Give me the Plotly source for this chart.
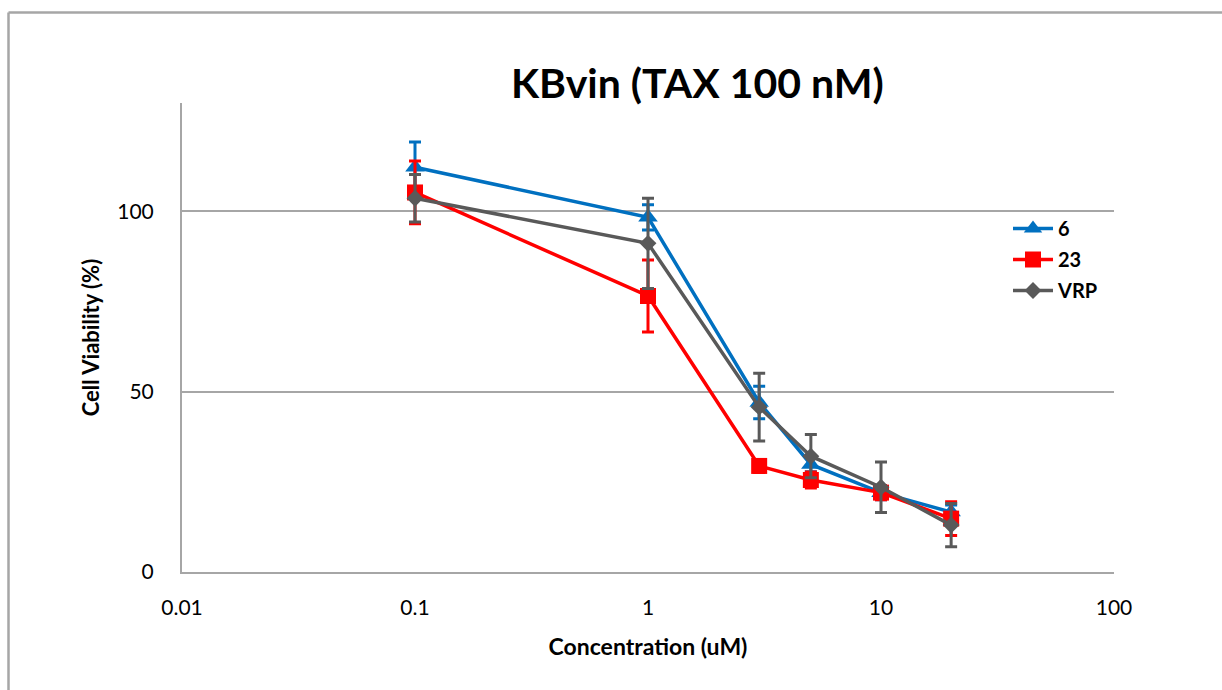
import plotly.graph_objects as go

conc = [0.1, 1, 3, 5, 10, 20]
s6 = [112.2, 98.3, 47.0, 29.8, 22.0, 16.6]
s6_err = [7.0, 3.5, 4.5, 2.0, 2.0, 2.0]
s23 = [105.2, 76.5, 29.4, 25.5, 22.0, 14.8]
s23_err = [8.7, 10.0, 1.8, 2.2, 2.0, 4.7]
vrp = [103.6, 91.1, 45.7, 32.1, 23.5, 13.0]
vrp_err = [6.6, 12.5, 9.4, 6.0, 7.0, 6.0]

names = ["6", "23", "VRP"]
colors = ["#0070C0", "#FF0000", "#595959"]
symbols = ["triangle-up", "square", "diamond"]
sizes = [17, 16, 13]
ys = [s6, s23, vrp]
errs = [s6_err, s23_err, vrp_err]

FONT = "Lato"
fig = go.Figure()
for n, c, sym, sz, y, e in zip(names, colors, symbols, sizes, ys, errs):
    fig.add_trace(go.Scatter(
        x=conc, y=y, name=n, mode="lines+markers", legendgroup=n,
        line=dict(color=c, width=3.5),
        marker=dict(symbol=sym, size=sz, color=c, line=dict(width=0)),
        error_y=dict(type="data", array=e, visible=True, color=c, thickness=3, width=6),
    ))

W, H = 1222, 690
L, R, T, B = 182, 108, 103, 118
pw, ph = W - L - R, H - T - B

def px(xp):
    return (xp - L) / pw

def py(yp):
    return (H - B - yp) / ph

fig.update_layout(
    width=W, height=H,
    margin=dict(l=L, r=R, t=T, b=B),
    paper_bgcolor="white", plot_bgcolor="white",
    font=dict(family=FONT, color="black"),
    showlegend=True,
    legend=dict(x=px(1008), y=py(209), xanchor="left", yanchor="top",
                font=dict(family=FONT, size=20, color="black", weight="bold"),
                bgcolor="rgba(0,0,0,0)", itemwidth=40, tracegroupgap=2),
    xaxis=dict(type="log", range=[-2, 2], tickvals=[0.01, 0.1, 1, 10, 100],
               ticktext=["0.01", "0.1", "1", "10", "100"],
               showgrid=False, zeroline=False, showline=True,
               linecolor="#A6A6A6", linewidth=2, ticks="", ticklabelstandoff=16,
               tickfont=dict(family=FONT, size=21, color="black"),
               title=dict(text="Concentration (uM)", standoff=21,
                          font=dict(family=FONT, size=23, color="black", weight="bold"))),
    yaxis=dict(range=[0, 130], tickvals=[0, 50, 100], showgrid=True,
               gridcolor="#A6A6A6", gridwidth=2, zeroline=False, showline=True,
               linecolor="#A6A6A6", linewidth=2, ticks="", ticklabelstandoff=22,
               tickfont=dict(family=FONT, size=21, color="black"),
               title=dict(text="Cell Viability (%)", standoff=12,
                          font=dict(family=FONT, size=22, color="black", weight="bold"))),
    annotations=[dict(text="KBvin (TAX 100 nM)", xref="paper", yref="paper",
                      x=px(697), y=py(82), xanchor="center", yanchor="middle",
                      showarrow=False,
                      font=dict(family=FONT, size=41, color="black", weight="bold"))],
    shapes=[
        dict(type="line", xref="paper", yref="paper", x0=px(8.5), x1=px(8.5),
             y0=py(12.5), y1=py(700), line=dict(color="#A6A6A6", width=2.5)),
        dict(type="line", xref="paper", yref="paper", x0=px(8.5), x1=px(1230),
             y0=py(12.5), y1=py(12.5), line=dict(color="#A6A6A6", width=2.5)),
    ],
)

fig.write_html("out.html")
